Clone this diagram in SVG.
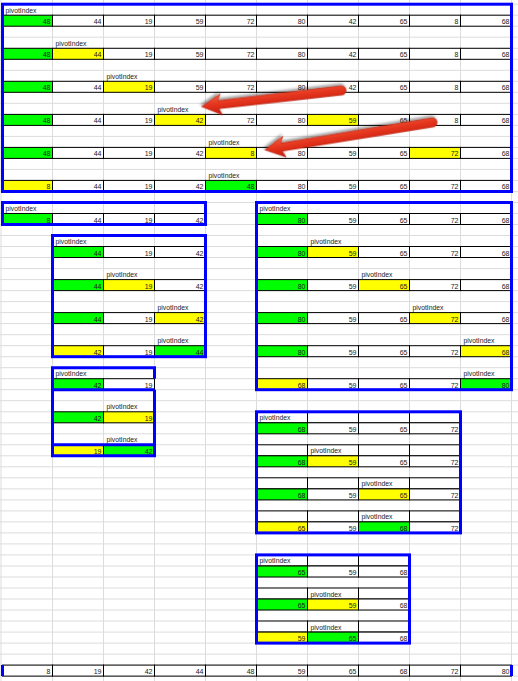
<svg xmlns="http://www.w3.org/2000/svg" width="518" height="681" viewBox="0 0 518 681">
<style>
.grid{fill:none;stroke:#dcdcdc;stroke-width:1}
.c{fill:#fff;stroke:#000;stroke-width:1}
.g{fill:#00ff00;stroke:#000;stroke-width:1}
.y{fill:#ffff00;stroke:#000;stroke-width:1}
.n{font-family:"Liberation Sans",Arial,sans-serif;font-size:7px;fill:#222;text-anchor:end}
.l{font-family:"Liberation Sans",Arial,sans-serif;font-size:6.8px;fill:#222;text-anchor:start}
.bx{fill:none;stroke:#0000ff;stroke-width:3}
.arrow{fill:url(#rg);stroke:#b81c0c;stroke-width:0.6;filter:url(#sh)}
</style>
<defs>
<linearGradient id="rg" x1="0" y1="1" x2="0" y2="0">
<stop offset="0" stop-color="#f4603e"/>
<stop offset="0.5" stop-color="#e3321c"/>
<stop offset="1" stop-color="#c2200e"/>
</linearGradient>
<filter id="sh" x="-20%" y="-50%" width="140%" height="200%">
<feDropShadow dx="1" dy="2" stdDeviation="1.5" flood-color="#000" flood-opacity="0.45"/>
</filter>
</defs>
<rect x="0" y="0" width="518" height="681" fill="#fff"/>
<g id="gridlines">
<path class="grid" d="M1 0V681M52.5 0V681M103.5 0V681M154.5 0V681M205.5 0V681M256.5 0V681M307.5 0V681M358.5 0V681M409.5 0V681M460.5 0V681M511.5 0V681"/>
<path class="grid" d="M0 4.2H518M0 15.2H518M0 26.2H518M0 37.2H518M0 48.3H518M0 59.3H518M0 70.3H518M0 81.3H518M0 92.3H518M0 103.3H518M0 114.4H518M0 125.4H518M0 136.4H518M0 147.4H518M0 158.4H518M0 169.4H518M0 180.4H518M0 191.5H518M0 202.5H518M0 213.5H518M0 224.5H518M0 235.5H518M0 246.5H518M0 257.5H518M0 268.6H518M0 279.6H518M0 290.6H518M0 301.6H518M0 312.6H518M0 323.6H518M0 334.7H518M0 345.7H518M0 356.7H518M0 367.7H518M0 378.7H518M0 389.7H518M0 400.7H518M0 411.8H518M0 422.8H518M0 433.8H518M0 444.8H518M0 455.8H518M0 466.8H518M0 477.8H518M0 488.9H518M0 499.9H518M0 510.9H518M0 521.9H518M0 532.9H518M0 543.9H518M0 554.9H518M0 566H518M0 577H518M0 588H518M0 599H518M0 610H518M0 621H518M0 632.1H518M0 643.1H518M0 654.1H518M0 665.1H518M0 676.1H518"/>
</g>

<g id="pass1">
<text class="l" x="5.5" y="12.7">pivotIndex</text>
<rect class="g" x="2.5" y="15.2" width="50" height="11"/><rect class="c" x="52.5" y="15.2" width="51" height="11"/><rect class="c" x="103.5" y="15.2" width="51" height="11"/><rect class="c" x="154.5" y="15.2" width="51" height="11"/><rect class="c" x="205.5" y="15.2" width="51" height="11"/><rect class="c" x="256.5" y="15.2" width="51" height="11"/><rect class="c" x="307.5" y="15.2" width="51" height="11"/><rect class="c" x="358.5" y="15.2" width="51" height="11"/><rect class="c" x="409.5" y="15.2" width="51" height="11"/><rect class="c" x="460.5" y="15.2" width="51" height="11"/>
<text class="n" x="50.5" y="24.2">48</text><text class="n" x="101.5" y="24.2">44</text><text class="n" x="152.5" y="24.2">19</text><text class="n" x="203.5" y="24.2">59</text><text class="n" x="254.5" y="24.2">72</text><text class="n" x="305.5" y="24.2">80</text><text class="n" x="356.5" y="24.2">42</text><text class="n" x="407.5" y="24.2">65</text><text class="n" x="458.5" y="24.2">8</text><text class="n" x="509.5" y="24.2">68</text>

<text class="l" x="55.5" y="45.7">pivotIndex</text>
<rect class="g" x="2.5" y="48.3" width="50" height="11"/><rect class="y" x="52.5" y="48.3" width="51" height="11"/><rect class="c" x="103.5" y="48.3" width="51" height="11"/><rect class="c" x="154.5" y="48.3" width="51" height="11"/><rect class="c" x="205.5" y="48.3" width="51" height="11"/><rect class="c" x="256.5" y="48.3" width="51" height="11"/><rect class="c" x="307.5" y="48.3" width="51" height="11"/><rect class="c" x="358.5" y="48.3" width="51" height="11"/><rect class="c" x="409.5" y="48.3" width="51" height="11"/><rect class="c" x="460.5" y="48.3" width="51" height="11"/>
<text class="n" x="50.5" y="57.3">48</text><text class="n" x="101.5" y="57.3">44</text><text class="n" x="152.5" y="57.3">19</text><text class="n" x="203.5" y="57.3">59</text><text class="n" x="254.5" y="57.3">72</text><text class="n" x="305.5" y="57.3">80</text><text class="n" x="356.5" y="57.3">42</text><text class="n" x="407.5" y="57.3">65</text><text class="n" x="458.5" y="57.3">8</text><text class="n" x="509.5" y="57.3">68</text>

<text class="l" x="106.5" y="78.8">pivotIndex</text>
<rect class="g" x="2.5" y="81.3" width="50" height="11"/><rect class="c" x="52.5" y="81.3" width="51" height="11"/><rect class="y" x="103.5" y="81.3" width="51" height="11"/><rect class="c" x="154.5" y="81.3" width="51" height="11"/><rect class="c" x="205.5" y="81.3" width="51" height="11"/><rect class="c" x="256.5" y="81.3" width="51" height="11"/><rect class="c" x="307.5" y="81.3" width="51" height="11"/><rect class="c" x="358.5" y="81.3" width="51" height="11"/><rect class="c" x="409.5" y="81.3" width="51" height="11"/><rect class="c" x="460.5" y="81.3" width="51" height="11"/>
<text class="n" x="50.5" y="90.3">48</text><text class="n" x="101.5" y="90.3">44</text><text class="n" x="152.5" y="90.3">19</text><text class="n" x="203.5" y="90.3">59</text><text class="n" x="254.5" y="90.3">72</text><text class="n" x="305.5" y="90.3">80</text><text class="n" x="356.5" y="90.3">42</text><text class="n" x="407.5" y="90.3">65</text><text class="n" x="458.5" y="90.3">8</text><text class="n" x="509.5" y="90.3">68</text>

<text class="l" x="157.5" y="111.8">pivotIndex</text>
<rect class="g" x="2.5" y="114.4" width="50" height="11"/><rect class="c" x="52.5" y="114.4" width="51" height="11"/><rect class="c" x="103.5" y="114.4" width="51" height="11"/><rect class="y" x="154.5" y="114.4" width="51" height="11"/><rect class="c" x="205.5" y="114.4" width="51" height="11"/><rect class="c" x="256.5" y="114.4" width="51" height="11"/><rect class="y" x="307.5" y="114.4" width="51" height="11"/><rect class="c" x="358.5" y="114.4" width="51" height="11"/><rect class="c" x="409.5" y="114.4" width="51" height="11"/><rect class="c" x="460.5" y="114.4" width="51" height="11"/>
<text class="n" x="50.5" y="123.4">48</text><text class="n" x="101.5" y="123.4">44</text><text class="n" x="152.5" y="123.4">19</text><text class="n" x="203.5" y="123.4">42</text><text class="n" x="254.5" y="123.4">72</text><text class="n" x="305.5" y="123.4">80</text><text class="n" x="356.5" y="123.4">59</text><text class="n" x="407.5" y="123.4">65</text><text class="n" x="458.5" y="123.4">8</text><text class="n" x="509.5" y="123.4">68</text>

<text class="l" x="208.5" y="144.9">pivotIndex</text>
<rect class="g" x="2.5" y="147.4" width="50" height="11"/><rect class="c" x="52.5" y="147.4" width="51" height="11"/><rect class="c" x="103.5" y="147.4" width="51" height="11"/><rect class="c" x="154.5" y="147.4" width="51" height="11"/><rect class="y" x="205.5" y="147.4" width="51" height="11"/><rect class="c" x="256.5" y="147.4" width="51" height="11"/><rect class="c" x="307.5" y="147.4" width="51" height="11"/><rect class="c" x="358.5" y="147.4" width="51" height="11"/><rect class="y" x="409.5" y="147.4" width="51" height="11"/><rect class="c" x="460.5" y="147.4" width="51" height="11"/>
<text class="n" x="50.5" y="156.4">48</text><text class="n" x="101.5" y="156.4">44</text><text class="n" x="152.5" y="156.4">19</text><text class="n" x="203.5" y="156.4">42</text><text class="n" x="254.5" y="156.4">8</text><text class="n" x="305.5" y="156.4">80</text><text class="n" x="356.5" y="156.4">59</text><text class="n" x="407.5" y="156.4">65</text><text class="n" x="458.5" y="156.4">72</text><text class="n" x="509.5" y="156.4">68</text>

<text class="l" x="208.5" y="177.9">pivotIndex</text>
<rect class="y" x="2.5" y="180.4" width="50" height="11"/><rect class="c" x="52.5" y="180.4" width="51" height="11"/><rect class="c" x="103.5" y="180.4" width="51" height="11"/><rect class="c" x="154.5" y="180.4" width="51" height="11"/><rect class="g" x="205.5" y="180.4" width="51" height="11"/><rect class="c" x="256.5" y="180.4" width="51" height="11"/><rect class="c" x="307.5" y="180.4" width="51" height="11"/><rect class="c" x="358.5" y="180.4" width="51" height="11"/><rect class="c" x="409.5" y="180.4" width="51" height="11"/><rect class="c" x="460.5" y="180.4" width="51" height="11"/>
<text class="n" x="50.5" y="189.4">8</text><text class="n" x="101.5" y="189.4">44</text><text class="n" x="152.5" y="189.4">19</text><text class="n" x="203.5" y="189.4">42</text><text class="n" x="254.5" y="189.4">48</text><text class="n" x="305.5" y="189.4">80</text><text class="n" x="356.5" y="189.4">59</text><text class="n" x="407.5" y="189.4">65</text><text class="n" x="458.5" y="189.4">72</text><text class="n" x="509.5" y="189.4">68</text>
<rect class="bx" x="2.5" y="4.2" width="509" height="187.3"/>
</g>

<g id="leftA">
<text class="l" x="5.5" y="211">pivotIndex</text>
<rect class="g" x="2.5" y="213.5" width="50" height="11"/><rect class="c" x="52.5" y="213.5" width="51" height="11"/><rect class="c" x="103.5" y="213.5" width="51" height="11"/><rect class="c" x="154.5" y="213.5" width="51" height="11"/>
<text class="n" x="50.5" y="222.5">8</text><text class="n" x="101.5" y="222.5">44</text><text class="n" x="152.5" y="222.5">19</text><text class="n" x="203.5" y="222.5">42</text>
<rect class="bx" x="2.5" y="202.5" width="203" height="22"/>
</g>

<g id="leftB">
<text class="l" x="55.5" y="244">pivotIndex</text>
<rect class="g" x="52.5" y="246.5" width="51" height="11"/><rect class="c" x="103.5" y="246.5" width="51" height="11"/><rect class="c" x="154.5" y="246.5" width="51" height="11"/>
<text class="n" x="101.5" y="255.5">44</text><text class="n" x="152.5" y="255.5">19</text><text class="n" x="203.5" y="255.5">42</text>
<text class="l" x="106.5" y="277.1">pivotIndex</text>
<rect class="g" x="52.5" y="279.6" width="51" height="11"/><rect class="y" x="103.5" y="279.6" width="51" height="11"/><rect class="c" x="154.5" y="279.6" width="51" height="11"/>
<text class="n" x="101.5" y="288.6">44</text><text class="n" x="152.5" y="288.6">19</text><text class="n" x="203.5" y="288.6">42</text>
<text class="l" x="157.5" y="310.1">pivotIndex</text>
<rect class="g" x="52.5" y="312.6" width="51" height="11"/><rect class="c" x="103.5" y="312.6" width="51" height="11"/><rect class="y" x="154.5" y="312.6" width="51" height="11"/>
<text class="n" x="101.5" y="321.6">44</text><text class="n" x="152.5" y="321.6">19</text><text class="n" x="203.5" y="321.6">42</text>
<text class="l" x="157.5" y="343.2">pivotIndex</text>
<rect class="y" x="52.5" y="345.7" width="51" height="11"/><rect class="c" x="103.5" y="345.7" width="51" height="11"/><rect class="g" x="154.5" y="345.7" width="51" height="11"/>
<text class="n" x="101.5" y="354.7">42</text><text class="n" x="152.5" y="354.7">19</text><text class="n" x="203.5" y="354.7">44</text>
<rect class="bx" x="52.5" y="235.5" width="153" height="121.2"/>
</g>

<g id="leftC">
<text class="l" x="55.5" y="376.2">pivotIndex</text>
<rect class="g" x="52.5" y="378.7" width="51" height="11"/><rect class="c" x="103.5" y="378.7" width="51" height="11"/>
<text class="n" x="101.5" y="387.7">42</text><text class="n" x="152.5" y="387.7">19</text>
<text class="l" x="106.5" y="409.2">pivotIndex</text>
<rect class="g" x="52.5" y="411.8" width="51" height="11"/><rect class="y" x="103.5" y="411.8" width="51" height="11"/>
<text class="n" x="101.5" y="420.8">42</text><text class="n" x="152.5" y="420.8">19</text>
<text class="l" x="106.5" y="442.3">pivotIndex</text>
<rect class="y" x="52.5" y="444.8" width="51" height="11"/><rect class="g" x="103.5" y="444.8" width="51" height="11"/>
<text class="n" x="101.5" y="453.8">19</text><text class="n" x="152.5" y="453.8">42</text>
<path class="bx" d="M154.5 378.7V367.7H52.5V455.8H154.5V389.7M52.5 389.7H154.5M52.5 444.8H154.5"/>
</g>

<g id="rightD">
<text class="l" x="259.5" y="211">pivotIndex</text>
<rect class="g" x="256.5" y="213.5" width="51" height="11"/><rect class="c" x="307.5" y="213.5" width="51" height="11"/><rect class="c" x="358.5" y="213.5" width="51" height="11"/><rect class="c" x="409.5" y="213.5" width="51" height="11"/><rect class="c" x="460.5" y="213.5" width="51" height="11"/>
<text class="n" x="305.5" y="222.5">80</text><text class="n" x="356.5" y="222.5">59</text><text class="n" x="407.5" y="222.5">65</text><text class="n" x="458.5" y="222.5">72</text><text class="n" x="509.5" y="222.5">68</text>
<text class="l" x="310.5" y="244">pivotIndex</text>
<rect class="g" x="256.5" y="246.5" width="51" height="11"/><rect class="y" x="307.5" y="246.5" width="51" height="11"/><rect class="c" x="358.5" y="246.5" width="51" height="11"/><rect class="c" x="409.5" y="246.5" width="51" height="11"/><rect class="c" x="460.5" y="246.5" width="51" height="11"/>
<text class="n" x="305.5" y="255.5">80</text><text class="n" x="356.5" y="255.5">59</text><text class="n" x="407.5" y="255.5">65</text><text class="n" x="458.5" y="255.5">72</text><text class="n" x="509.5" y="255.5">68</text>
<text class="l" x="361.5" y="277.1">pivotIndex</text>
<rect class="g" x="256.5" y="279.6" width="51" height="11"/><rect class="c" x="307.5" y="279.6" width="51" height="11"/><rect class="y" x="358.5" y="279.6" width="51" height="11"/><rect class="c" x="409.5" y="279.6" width="51" height="11"/><rect class="c" x="460.5" y="279.6" width="51" height="11"/>
<text class="n" x="305.5" y="288.6">80</text><text class="n" x="356.5" y="288.6">59</text><text class="n" x="407.5" y="288.6">65</text><text class="n" x="458.5" y="288.6">72</text><text class="n" x="509.5" y="288.6">68</text>
<text class="l" x="412.5" y="310.1">pivotIndex</text>
<rect class="g" x="256.5" y="312.6" width="51" height="11"/><rect class="c" x="307.5" y="312.6" width="51" height="11"/><rect class="c" x="358.5" y="312.6" width="51" height="11"/><rect class="y" x="409.5" y="312.6" width="51" height="11"/><rect class="c" x="460.5" y="312.6" width="51" height="11"/>
<text class="n" x="305.5" y="321.6">80</text><text class="n" x="356.5" y="321.6">59</text><text class="n" x="407.5" y="321.6">65</text><text class="n" x="458.5" y="321.6">72</text><text class="n" x="509.5" y="321.6">68</text>
<text class="l" x="463.5" y="343.2">pivotIndex</text>
<rect class="g" x="256.5" y="345.7" width="51" height="11"/><rect class="c" x="307.5" y="345.7" width="51" height="11"/><rect class="c" x="358.5" y="345.7" width="51" height="11"/><rect class="c" x="409.5" y="345.7" width="51" height="11"/><rect class="y" x="460.5" y="345.7" width="51" height="11"/>
<text class="n" x="305.5" y="354.7">80</text><text class="n" x="356.5" y="354.7">59</text><text class="n" x="407.5" y="354.7">65</text><text class="n" x="458.5" y="354.7">72</text><text class="n" x="509.5" y="354.7">68</text>
<text class="l" x="463.5" y="376.2">pivotIndex</text>
<rect class="y" x="256.5" y="378.7" width="51" height="11"/><rect class="c" x="307.5" y="378.7" width="51" height="11"/><rect class="c" x="358.5" y="378.7" width="51" height="11"/><rect class="c" x="409.5" y="378.7" width="51" height="11"/><rect class="g" x="460.5" y="378.7" width="51" height="11"/>
<text class="n" x="305.5" y="387.7">68</text><text class="n" x="356.5" y="387.7">59</text><text class="n" x="407.5" y="387.7">65</text><text class="n" x="458.5" y="387.7">72</text><text class="n" x="509.5" y="387.7">80</text>
<rect class="bx" x="256.5" y="202.5" width="255" height="187.2"/>
</g>

<g id="rightE">
<rect class="c" x="256.5" y="411.8" width="51" height="11"/><rect class="c" x="307.5" y="411.8" width="51" height="11"/><rect class="c" x="358.5" y="411.8" width="51" height="11"/><rect class="c" x="409.5" y="411.8" width="51" height="11"/>
<text class="l" x="259.5" y="420.3">pivotIndex</text>
<rect class="g" x="256.5" y="422.8" width="51" height="11"/><rect class="c" x="307.5" y="422.8" width="51" height="11"/><rect class="c" x="358.5" y="422.8" width="51" height="11"/><rect class="c" x="409.5" y="422.8" width="51" height="11"/>
<text class="n" x="305.5" y="431.8">68</text><text class="n" x="356.5" y="431.8">59</text><text class="n" x="407.5" y="431.8">65</text><text class="n" x="458.5" y="431.8">72</text>
<rect class="c" x="256.5" y="444.8" width="51" height="11"/><rect class="c" x="307.5" y="444.8" width="51" height="11"/><rect class="c" x="358.5" y="444.8" width="51" height="11"/><rect class="c" x="409.5" y="444.8" width="51" height="11"/>
<text class="l" x="310.5" y="453.3">pivotIndex</text>
<rect class="g" x="256.5" y="455.8" width="51" height="11"/><rect class="y" x="307.5" y="455.8" width="51" height="11"/><rect class="c" x="358.5" y="455.8" width="51" height="11"/><rect class="c" x="409.5" y="455.8" width="51" height="11"/>
<text class="n" x="305.5" y="464.8">68</text><text class="n" x="356.5" y="464.8">59</text><text class="n" x="407.5" y="464.8">65</text><text class="n" x="458.5" y="464.8">72</text>
<rect class="c" x="256.5" y="477.8" width="51" height="11"/><rect class="c" x="307.5" y="477.8" width="51" height="11"/><rect class="c" x="358.5" y="477.8" width="51" height="11"/><rect class="c" x="409.5" y="477.8" width="51" height="11"/>
<text class="l" x="361.5" y="486.3">pivotIndex</text>
<rect class="g" x="256.5" y="488.9" width="51" height="11"/><rect class="c" x="307.5" y="488.9" width="51" height="11"/><rect class="y" x="358.5" y="488.9" width="51" height="11"/><rect class="c" x="409.5" y="488.9" width="51" height="11"/>
<text class="n" x="305.5" y="497.9">68</text><text class="n" x="356.5" y="497.9">59</text><text class="n" x="407.5" y="497.9">65</text><text class="n" x="458.5" y="497.9">72</text>
<rect class="c" x="256.5" y="510.9" width="51" height="11"/><rect class="c" x="307.5" y="510.9" width="51" height="11"/><rect class="c" x="358.5" y="510.9" width="51" height="11"/><rect class="c" x="409.5" y="510.9" width="51" height="11"/>
<text class="l" x="361.5" y="519.4">pivotIndex</text>
<rect class="y" x="256.5" y="521.9" width="51" height="11"/><rect class="c" x="307.5" y="521.9" width="51" height="11"/><rect class="g" x="358.5" y="521.9" width="51" height="11"/><rect class="c" x="409.5" y="521.9" width="51" height="11"/>
<text class="n" x="305.5" y="530.9">65</text><text class="n" x="356.5" y="530.9">59</text><text class="n" x="407.5" y="530.9">68</text><text class="n" x="458.5" y="530.9">72</text>
<rect class="bx" x="256.5" y="411.8" width="204" height="121.1"/>
</g>

<g id="rightF">
<rect class="c" x="256.5" y="554.9" width="51" height="11"/><rect class="c" x="307.5" y="554.9" width="51" height="11"/><rect class="c" x="358.5" y="554.9" width="51" height="11"/>
<text class="l" x="259.5" y="563.4">pivotIndex</text>
<rect class="g" x="256.5" y="566" width="51" height="11"/><rect class="c" x="307.5" y="566" width="51" height="11"/><rect class="c" x="358.5" y="566" width="51" height="11"/>
<text class="n" x="305.5" y="575">65</text><text class="n" x="356.5" y="575">59</text><text class="n" x="407.5" y="575">68</text>
<rect class="c" x="256.5" y="588" width="51" height="11"/><rect class="c" x="307.5" y="588" width="51" height="11"/><rect class="c" x="358.5" y="588" width="51" height="11"/>
<text class="l" x="310.5" y="596.5">pivotIndex</text>
<rect class="g" x="256.5" y="599" width="51" height="11"/><rect class="y" x="307.5" y="599" width="51" height="11"/><rect class="c" x="358.5" y="599" width="51" height="11"/>
<text class="n" x="305.5" y="608">65</text><text class="n" x="356.5" y="608">59</text><text class="n" x="407.5" y="608">68</text>
<rect class="c" x="256.5" y="621" width="51" height="11"/><rect class="c" x="307.5" y="621" width="51" height="11"/><rect class="c" x="358.5" y="621" width="51" height="11"/>
<text class="l" x="310.5" y="629.5">pivotIndex</text>
<rect class="y" x="256.5" y="632.1" width="51" height="11"/><rect class="g" x="307.5" y="632.1" width="51" height="11"/><rect class="c" x="358.5" y="632.1" width="51" height="11"/>
<text class="n" x="305.5" y="641.1">59</text><text class="n" x="356.5" y="641.1">65</text><text class="n" x="407.5" y="641.1">68</text>
<rect class="bx" x="256.5" y="554.9" width="153" height="88.2"/>
</g>

<g id="sorted">
<rect class="c" x="2.5" y="665.1" width="50" height="11"/><rect class="c" x="52.5" y="665.1" width="51" height="11"/><rect class="c" x="103.5" y="665.1" width="51" height="11"/><rect class="c" x="154.5" y="665.1" width="51" height="11"/><rect class="c" x="205.5" y="665.1" width="51" height="11"/><rect class="c" x="256.5" y="665.1" width="51" height="11"/><rect class="c" x="307.5" y="665.1" width="51" height="11"/><rect class="c" x="358.5" y="665.1" width="51" height="11"/><rect class="c" x="409.5" y="665.1" width="51" height="11"/><rect class="c" x="460.5" y="665.1" width="51" height="11"/>
<text class="n" x="50.5" y="674.1">8</text><text class="n" x="101.5" y="674.1">19</text><text class="n" x="152.5" y="674.1">42</text><text class="n" x="203.5" y="674.1">44</text><text class="n" x="254.5" y="674.1">48</text><text class="n" x="305.5" y="674.1">59</text><text class="n" x="356.5" y="674.1">65</text><text class="n" x="407.5" y="674.1">68</text><text class="n" x="458.5" y="674.1">72</text><text class="n" x="509.5" y="674.1">80</text>
<path class="bx" d="M2.5 665.1V676.1M511.5 665.1V676.1"/>
</g>

<g id="connectors">
<g transform="translate(341.5 90.5) rotate(173.4)">
<path class="arrow" d="M0 -4.6L124 -4L121 -10.5L140.7 0L121 10.5L124 4L0 4.6A4.6 4.6 0 0 1 0 -4.6Z"/>
</g>
<g transform="translate(432.5 122.5) rotate(170.7)">
<path class="arrow" d="M0 -4.6L153 -4L150 -10.5L169.7 0L150 10.5L153 4L0 4.6A4.6 4.6 0 0 1 0 -4.6Z"/>
</g>
</g>
</svg>
